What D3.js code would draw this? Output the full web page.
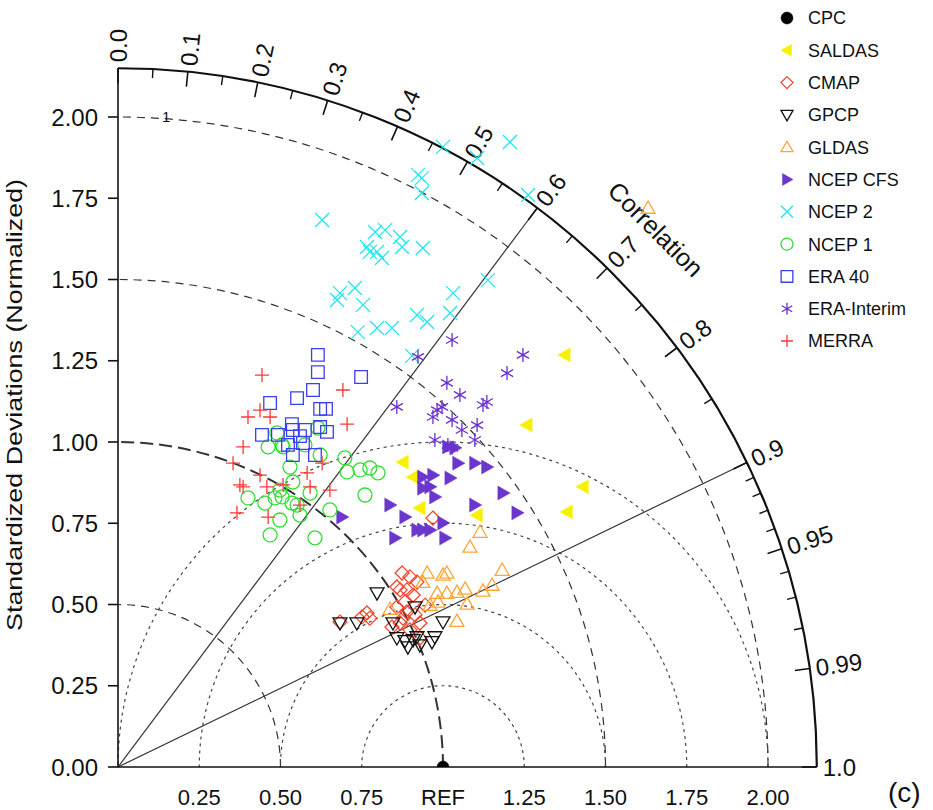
<!DOCTYPE html>
<html>
<head>
<meta charset="utf-8">
<script src="https://cdn.jsdelivr.net/npm/d3@7"></script>
<style>
body { margin: 0; background: #fff; overflow: hidden; }
text { font-family: "Liberation Sans", Arial, sans-serif; fill: #111; }
</style>
</head>
<body>
<div id="chart"></div>
<script>
// values are [sd * corr, sd * sqrt(1 - corr^2)] in normalized standard deviations
var cpc = [[1.0, 0.0]];
var saldas = [
    [1.375, 1.268], [1.258, 1.052], [0.877, 0.938], [0.908, 0.892],
    [1.431, 0.862], [0.929, 0.797], [1.382, 0.785], [1.105, 0.775]
];
var cmap = [
    [0.874, 0.597], [0.898, 0.585], [0.920, 0.569], [0.858, 0.554], [0.868, 0.545],
    [0.889, 0.545], [0.751, 0.462], [0.775, 0.458], [0.766, 0.474], [0.683, 0.446],
    [0.858, 0.492], [0.883, 0.508], [0.908, 0.529], [0.843, 0.431], [0.868, 0.443],
    [0.889, 0.477], [0.914, 0.468], [0.898, 0.422], [0.929, 0.443], [0.929, 0.397],
    [0.969, 0.766], [0.945, 0.498], [0.877, 0.458]
];
var gpcp = [
    [0.797, 0.535], [0.683, 0.443], [0.735, 0.443], [0.858, 0.397], [0.883, 0.388],
    [0.892, 0.369], [0.920, 0.400], [0.929, 0.375], [0.975, 0.400], [1.000, 0.446],
    [0.846, 0.443], [0.966, 0.385], [0.908, 0.391], [0.914, 0.492]
];
var gldas = [
    [1.631, 1.720], [1.114, 0.723], [1.083, 0.677], [1.182, 0.606], [0.951, 0.597],
    [1.000, 0.591], [1.012, 0.597], [0.938, 0.569], [0.982, 0.535], [1.012, 0.535],
    [1.043, 0.538], [1.068, 0.548], [1.123, 0.542], [1.151, 0.560], [0.837, 0.486],
    [0.985, 0.508], [1.043, 0.449], [1.074, 0.502], [0.960, 0.498]
];
var ncep_cfs = [
    [1.046, 0.935], [1.098, 0.935], [1.135, 0.923], [1.015, 0.985], [1.037, 0.982],
    [1.022, 0.889], [0.969, 0.898], [0.938, 0.892], [0.938, 0.858], [0.960, 0.862],
    [0.975, 0.831], [1.185, 0.843], [0.837, 0.806], [0.883, 0.769], [1.098, 0.806],
    [1.228, 0.782], [0.920, 0.729], [0.938, 0.729], [0.960, 0.729], [1.006, 0.705],
    [0.852, 0.705], [1.000, 0.751], [0.689, 0.769]
];
var ncep_2 = [
    [1.206, 1.923], [1.000, 1.908], [1.105, 1.874], [0.923, 1.822], [0.935, 1.812],
    [0.935, 1.766], [1.262, 1.760], [0.628, 1.683], [0.791, 1.646], [0.822, 1.652],
    [0.868, 1.631], [0.874, 1.600], [0.766, 1.600], [0.775, 1.585], [0.797, 1.585],
    [0.812, 1.566], [0.938, 1.597], [1.138, 1.498], [1.031, 1.458], [0.683, 1.458],
    [0.729, 1.474], [0.674, 1.437], [0.754, 1.422], [0.920, 1.391], [0.951, 1.369],
    [1.022, 1.397], [0.738, 1.338], [0.797, 1.351], [0.843, 1.351], [0.905, 1.265]
];
var ncep_1 = [
    [0.615, 1.043], [0.489, 1.028], [0.505, 0.991], [0.508, 0.985], [0.462, 0.985],
    [0.575, 0.991], [0.622, 0.960], [0.698, 0.951], [0.529, 0.923], [0.705, 0.908],
    [0.745, 0.914], [0.775, 0.920], [0.800, 0.905], [0.538, 0.877], [0.498, 0.852],
    [0.591, 0.843], [0.760, 0.837], [0.400, 0.828], [0.452, 0.812], [0.483, 0.828],
    [0.505, 0.831], [0.535, 0.812], [0.551, 0.806], [0.560, 0.775], [0.652, 0.791],
    [0.498, 0.760], [0.468, 0.714], [0.606, 0.705]
];
var era_40 = [
    [0.615, 1.268], [0.615, 1.215], [0.748, 1.200], [0.600, 1.160], [0.551, 1.135],
    [0.468, 1.120], [0.622, 1.102], [0.640, 1.102], [0.535, 1.055], [0.538, 1.037],
    [0.443, 1.022], [0.492, 1.022], [0.560, 1.018], [0.575, 1.037], [0.622, 1.046],
    [0.643, 1.031], [0.523, 0.991], [0.569, 0.997], [0.538, 0.960], [0.606, 0.960]
];
var era_interim = [
    [1.028, 1.314], [0.923, 1.262], [1.246, 1.268], [1.197, 1.212], [1.012, 1.182],
    [1.052, 1.145], [1.123, 1.114], [1.135, 1.123], [0.858, 1.108], [0.982, 1.098],
    [0.997, 1.108], [0.969, 1.077], [1.028, 1.068], [1.058, 1.037], [1.105, 1.052],
    [1.098, 1.006], [0.975, 1.006], [1.015, 0.991], [1.028, 0.982]
];
var merra = [
    [0.443, 1.206], [0.692, 1.160], [0.437, 1.098], [0.400, 1.077], [0.468, 1.077],
    [0.705, 1.055], [0.385, 0.985], [0.354, 0.935], [0.437, 0.898], [0.628, 0.935],
    [0.582, 0.905], [0.375, 0.868], [0.385, 0.862], [0.458, 0.862], [0.508, 0.868],
    [0.591, 0.862], [0.652, 0.852], [0.366, 0.782], [0.462, 0.769], [0.560, 0.806]
];

var series_names = ['CPC', 'SALDAS', 'CMAP', 'GPCP', 'GLDAS', 'NCEP CFS',
    'NCEP 2', 'NCEP 1', 'ERA 40', 'ERA-Interim', 'MERRA'];
var series_data = [cpc, saldas, cmap, gpcp, gldas, ncep_cfs,
    ncep_2, ncep_1, era_40, era_interim, merra];

var std_ticks = [0, 0.25, 0.5, 0.75, 1.0, 1.25, 1.5, 1.75, 2.0];
var std_tick_labels = ['0.00', '0.25', '0.50', '0.75', '1.00', '1.25', '1.50', '1.75', '2.00'];
var x_ticks = [0.25, 0.5, 0.75, 1.0, 1.25, 1.5, 1.75, 2.0];
var x_tick_labels = ['0.25', '0.50', '0.75', 'REF', '1.25', '1.50', '1.75', '2.00'];
var corr_major = [0, 0.1, 0.2, 0.3, 0.4, 0.5, 0.6, 0.7, 0.8, 0.9, 0.95, 0.99, 1.0];
var corr_labels = ['0.0', '0.1', '0.2', '0.3', '0.4', '0.5', '0.6', '0.7', '0.8', '0.9', '0.95', '0.99', '1.0'];
var corr_minor = [0.05, 0.15, 0.25, 0.35, 0.45, 0.55, 0.65, 0.75, 0.85,
    0.91, 0.92, 0.93, 0.94, 0.96, 0.97, 0.98];
var std_arcs = [0.5, 1.0, 1.5, 2.0];
var rms_arcs = [0.25, 0.5, 0.75, 1.0];
var corr_lines = [0.6, 0.9];
var max_std = 2.15;

var chart_width = 933;
var chart_height = 810;
var origin_x = 118;
var origin_y = 767;
var unit = 325;

// marker style per series (legend order)
var styles = [
    { type: 'circle', color: '#000000', fill: true },
    { type: 'left', color: '#f7f000', fill: true },
    { type: 'diamond', color: '#f2462e', fill: false },
    { type: 'down', color: '#111111', fill: false },
    { type: 'up', color: '#ffa533', fill: false },
    { type: 'right', color: '#6a36cc', fill: true },
    { type: 'x', color: '#22e6ee', fill: false },
    { type: 'circle', color: '#33dd33', fill: false },
    { type: 'square', color: '#3a3ff0', fill: false },
    { type: 'asterisk', color: '#6a30d0', fill: false },
    { type: 'plus', color: '#ff3838', fill: false }
];

var svg = d3.select('#chart')
    .append('svg')
    .attr('width', chart_width)
    .attr('height', chart_height)
    .style('display', 'block');

// Escalas
var x_scale = d3.scaleLinear()
    .domain([0, max_std])
    .range([origin_x, origin_x + max_std * unit]);
var y_scale = d3.scaleLinear()
    .domain([0, max_std])
    .range([origin_y, origin_y - max_std * unit]);
var r_scale = d3.scaleLinear()
    .domain([0, max_std])
    .range([0, max_std * unit]);

var R = r_scale(max_std);

function polar(r_px, corr) {
    var a = Math.acos(corr);
    return [origin_x + r_px * Math.cos(a), origin_y - r_px * Math.sin(a)];
}

function marker_path(type, s) {
    var p = d3.path();
    if (type === 'circle') {
        p.moveTo(s, 0);
        p.arc(0, 0, s, 0, 2 * Math.PI);
    } else if (type === 'left') {
        p.moveTo(-s, 0); p.lineTo(s * 0.75, -s); p.lineTo(s * 0.75, s); p.closePath();
    } else if (type === 'right') {
        p.moveTo(s, 0); p.lineTo(-s * 0.75, -s); p.lineTo(-s * 0.75, s); p.closePath();
    } else if (type === 'up') {
        p.moveTo(0, -s); p.lineTo(s, s * 0.75); p.lineTo(-s, s * 0.75); p.closePath();
    } else if (type === 'down') {
        p.moveTo(0, s); p.lineTo(s, -s * 0.75); p.lineTo(-s, -s * 0.75); p.closePath();
    } else if (type === 'diamond') {
        p.moveTo(0, -s); p.lineTo(s, 0); p.lineTo(0, s); p.lineTo(-s, 0); p.closePath();
    } else if (type === 'square') {
        p.rect(-s * 0.9, -s * 0.9, s * 1.8, s * 1.8);
    } else if (type === 'x') {
        p.moveTo(-s, -s); p.lineTo(s, s); p.moveTo(-s, s); p.lineTo(s, -s);
    } else if (type === 'plus') {
        p.moveTo(-s, 0); p.lineTo(s, 0); p.moveTo(0, -s); p.lineTo(0, s);
    } else if (type === 'asterisk') {
        var c = Math.cos(Math.PI / 6), h = Math.sin(Math.PI / 6);
        p.moveTo(0, -s); p.lineTo(0, s);
        p.moveTo(-s * c, -s * h); p.lineTo(s * c, s * h);
        p.moveTo(-s * c, s * h); p.lineTo(s * c, -s * h);
    }
    return p.toString();
}

var grid = svg.append('g');

// circulos de desvio padrao (tracejado)
grid.selectAll('path.std')
    .data(std_arcs)
    .enter()
    .append('path')
    .attr('d', function (d) {
        var p = d3.path();
        p.moveTo(x_scale(d), origin_y);
        p.arc(origin_x, origin_y, r_scale(d), 0, -Math.PI / 2, true);
        return p.toString();
    })
    .attr('fill', 'none')
    .attr('stroke', '#333')
    .attr('stroke-width', function (d) { return d === 1 ? 2 : 1.2; })
    .attr('stroke-dasharray', function (d) { return d === 1 ? '13,6' : '8,6'; });

// circulos RMS em torno do REF (pontilhado)
grid.selectAll('path.rms')
    .data(rms_arcs)
    .enter()
    .append('path')
    .attr('d', function (d) {
        var p = d3.path();
        p.moveTo(x_scale(1 + d), origin_y);
        p.arc(x_scale(1), origin_y, r_scale(d), 0, -Math.PI, true);
        return p.toString();
    })
    .attr('fill', 'none')
    .attr('stroke', '#444')
    .attr('stroke-width', 1.2)
    .attr('stroke-dasharray', '3,4');

// linhas de correlacao
grid.selectAll('line.corr')
    .data(corr_lines)
    .enter()
    .append('line')
    .attr('x1', origin_x)
    .attr('y1', origin_y)
    .attr('x2', function (d) { return polar(R, d)[0]; })
    .attr('y2', function (d) { return polar(R, d)[1]; })
    .attr('stroke', '#333')
    .attr('stroke-width', 1.2);

// arco externo
svg.append('path')
    .attr('d', function () {
        var p = d3.path();
        p.moveTo(origin_x + R, origin_y);
        p.arc(origin_x, origin_y, R, 0, -Math.PI / 2, true);
        return p.toString();
    })
    .attr('fill', 'none')
    .attr('stroke', '#111')
    .attr('stroke-width', 2.2);

// eixos
svg.append('line')
    .attr('x1', origin_x).attr('y1', origin_y)
    .attr('x2', origin_x).attr('y2', y_scale(max_std))
    .attr('stroke', '#111').attr('stroke-width', 1.6);
svg.append('line')
    .attr('x1', origin_x).attr('y1', origin_y)
    .attr('x2', x_scale(max_std)).attr('y2', origin_y)
    .attr('stroke', '#111').attr('stroke-width', 1.6);

// ticks da correlacao
svg.selectAll('line.cmajor')
    .data(corr_major)
    .enter()
    .append('line')
    .attr('x1', function (d) { return polar(R, d)[0]; })
    .attr('y1', function (d) { return polar(R, d)[1]; })
    .attr('x2', function (d) { return polar(R - 15, d)[0]; })
    .attr('y2', function (d) { return polar(R - 15, d)[1]; })
    .attr('stroke', '#111')
    .attr('stroke-width', 1.6);
svg.selectAll('line.cminor')
    .data(corr_minor)
    .enter()
    .append('line')
    .attr('x1', function (d) { return polar(R, d)[0]; })
    .attr('y1', function (d) { return polar(R, d)[1]; })
    .attr('x2', function (d) { return polar(R - 9, d)[0]; })
    .attr('y2', function (d) { return polar(R - 9, d)[1]; })
    .attr('stroke', '#111')
    .attr('stroke-width', 1.4);

svg.selectAll('text.clabel')
    .data(corr_major)
    .enter()
    .append('text')
    .text(function (d, i) { return corr_labels[i]; })
    .attr('transform', function (d) {
        var pt = polar(R + 6, d);
        var deg = Math.acos(d) * 180 / Math.PI;
        return 'translate(' + pt[0] + ',' + pt[1] + ') rotate(' + (-deg) + ')';
    })
    .attr('dy', '0.36em')
    .attr('font-size', 24);

var title_pt = polar(R + 62, Math.cos(Math.PI / 4));
svg.append('text')
    .text('Correlation')
    .attr('transform', 'translate(' + title_pt[0] + ',' + title_pt[1] + ') rotate(45)')
    .attr('text-anchor', 'middle')
    .attr('dy', '0.36em')
    .attr('font-size', 25);

// eixo y
svg.selectAll('line.ytick')
    .data(std_ticks)
    .enter()
    .append('line')
    .attr('x1', origin_x - 10)
    .attr('x2', origin_x)
    .attr('y1', function (d) { return y_scale(d); })
    .attr('y2', function (d) { return y_scale(d); })
    .attr('stroke', '#111')
    .attr('stroke-width', 1.6);
svg.selectAll('text.ylabel')
    .data(std_ticks)
    .enter()
    .append('text')
    .text(function (d, i) { return std_tick_labels[i]; })
    .attr('x', origin_x - 20)
    .attr('y', function (d) { return y_scale(d); })
    .attr('dy', '0.36em')
    .attr('text-anchor', 'end')
    .attr('font-size', 24);

svg.append('text')
    .text('Standardized Deviations (Normalized)')
    .attr('transform', 'translate(22,' + (origin_y - 362) + ') rotate(-90)')
    .attr('text-anchor', 'middle')
    .attr('font-size', 22)
    .attr('textLength', 452)
    .attr('lengthAdjust', 'spacingAndGlyphs');

// eixo x
svg.selectAll('text.xlabel')
    .data(x_ticks)
    .enter()
    .append('text')
    .text(function (d, i) { return x_tick_labels[i]; })
    .attr('x', function (d) { return x_scale(d); })
    .attr('y', origin_y + 38)
    .attr('text-anchor', 'middle')
    .attr('font-size', 22);

svg.append('text')
    .text('1')
    .attr('x', 162)
    .attr('y', y_scale(2) + 5)
    .attr('font-size', 15);

svg.append('text')
    .text('(c)')
    .attr('x', 888)
    .attr('y', 802)
    .attr('font-size', 28);

// pontos
svg.append('clipPath')
    .attr('id', 'above')
    .append('rect')
    .attr('x', 0).attr('y', 0)
    .attr('width', chart_width).attr('height', origin_y);

var pts = svg.append('g').attr('clip-path', 'url(#above)');
series_data.forEach(function (data, i) {
    var st = styles[i];
    var size = st.type === 'circle' && st.fill ? 6 : 7;
    pts.selectAll('path.s' + i)
        .data(data)
        .enter()
        .append('path')
        .attr('d', marker_path(st.type, size))
        .attr('transform', function (d) {
            return 'translate(' + x_scale(d[0]) + ',' + y_scale(d[1]) + ')';
        })
        .attr('fill', st.fill ? st.color : 'none')
        .attr('stroke', st.color)
        .attr('stroke-width', st.fill ? 0.5 : 1.3);
});

// legenda
var legend = svg.append('g');
series_names.forEach(function (name, i) {
    var st = styles[i];
    var ly = 18 + i * 32.3;
    legend.append('path')
        .attr('d', marker_path(st.type, st.type === 'square' ? 6.5 : 6))
        .attr('transform', 'translate(787,' + ly + ')')
        .attr('fill', st.fill ? st.color : 'none')
        .attr('stroke', st.color)
        .attr('stroke-width', st.fill ? 0.5 : 1.3);
    legend.append('text')
        .text(name)
        .attr('x', 808)
        .attr('y', ly)
        .attr('dy', '0.36em')
        .attr('font-size', 18);
});
</script>
</body>
</html>
